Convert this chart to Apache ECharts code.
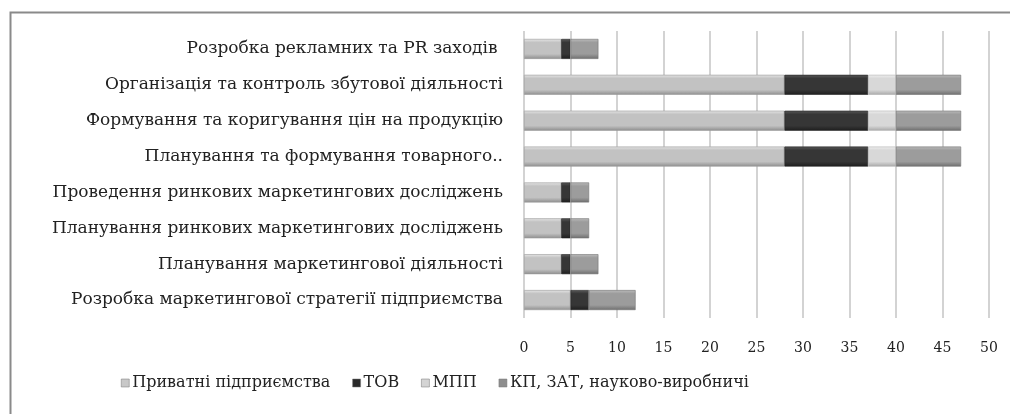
<!DOCTYPE html>
<html>
<head>
<meta charset="utf-8">
<script src="https://cdn.jsdelivr.net/npm/echarts@6/dist/echarts.min.js"></script>
<style>
  html, body { margin: 0; padding: 0; background: #fff; }
  #chart { width: 1010px; height: 414px; }
</style>
</head>
<body>
<div id="chart"></div>
<script>
// Marketing functions (top to bottom) and counts by enterprise type
const categories = [
  'Розробка рекламних та PR заходів ',
  'Організація та контроль збутової діяльності',
  'Формування та коригування цін на продукцію',
  'Планування та формування товарного..',
  'Проведення ринкових маркетингових досліджень',
  'Планування ринкових маркетингових досліджень',
  'Планування маркетингової діяльності',
  'Розробка маркетингової стратегії підприємства'
];
const privateEnt = [4, 28, 28, 28, 4, 4, 4, 5];
const tov        = [1, 9, 9, 9, 1, 1, 1, 2];
const mpp        = [0, 3, 3, 3, 0, 0, 0, 0];
const kpZat      = [3, 7, 7, 7, 2, 2, 3, 5];
const seriesNames = ['Приватні підприємства', 'ТОВ', 'МПП', 'КП, ЗАТ, науково-виробничі'];
const xTicks = { min: 0, max: 50, step: 5 };

const serif = 'DejaVu Serif';

function bevel(top, mid, bottom) {
  return new echarts.graphic.LinearGradient(0, 0, 0, 1, [
    { offset: 0, color: top },
    { offset: 0.18, color: mid },
    { offset: 0.75, color: mid },
    { offset: 1, color: bottom }
  ]);
}

const styles = [
  { fill: bevel('#e6e6e6', '#c2c2c2', '#8e8e8e'), border: '#9a9a9a', icon: '#c8c8c8' },
  { fill: bevel('#5a5a5a', '#363636', '#1e1e1e'), border: '#222', icon: '#2a2a2a' },
  { fill: bevel('#f0f0f0', '#d8d8d8', '#a8a8a8'), border: '#b0b0b0', icon: '#d4d4d4' },
  { fill: bevel('#bcbcbc', '#9c9c9c', '#6e6e6e'), border: '#747474', icon: '#8e8e8e' }
];
const values = [privateEnt, tov, mpp, kpZat];

const chart = echarts.init(document.getElementById('chart'), null, { renderer: 'canvas' });
chart.setOption({
  animation: false,
  backgroundColor: '#fff',
  grid: { left: 524, right: 21, top: 31, bottom: 96 },
  legend: {
    bottom: 18,
    left: 116,
    itemWidth: 8,
    itemHeight: 8,
    itemGap: 22,
    icon: 'rect',
    textStyle: { fontFamily: serif, fontSize: 16, color: '#222', padding: [0, 0, 0, -2] },
    data: seriesNames.map((n, i) => ({ name: n, itemStyle: { color: styles[i].icon, borderColor: '#777', borderWidth: 0.5 } }))
  },
  xAxis: {
    type: 'value',
    min: xTicks.min,
    max: xTicks.max,
    interval: xTicks.step,
    axisLine: { show: false },
    axisTick: { show: false },
    splitLine: { show: true, lineStyle: { color: '#c4c4c4', width: 1.5 } },
    axisLabel: { margin: 23, fontFamily: serif, fontSize: 14, color: '#222' }
  },
  yAxis: {
    type: 'category',
    inverse: true,
    data: categories,
    axisLine: { show: false },
    axisTick: { show: false },
    axisLabel: { margin: 21, fontFamily: serif, fontSize: 17, color: '#222' }
  },
  series: values.map((v, i) => ({
    name: seriesNames[i],
    type: 'bar',
    stack: 'total',
    barWidth: 20,
    data: v,
    itemStyle: { color: styles[i].fill, borderColor: styles[i].border, borderWidth: 0.6 }
  })),
  graphic: [{
    type: 'rect',
    silent: true,
    shape: { x: 10.5, y: 12.5, width: 1010, height: 420 },
    style: { fill: 'none', stroke: '#8a8a8a', lineWidth: 2 }
  }]
});
</script>
</body>
</html>
